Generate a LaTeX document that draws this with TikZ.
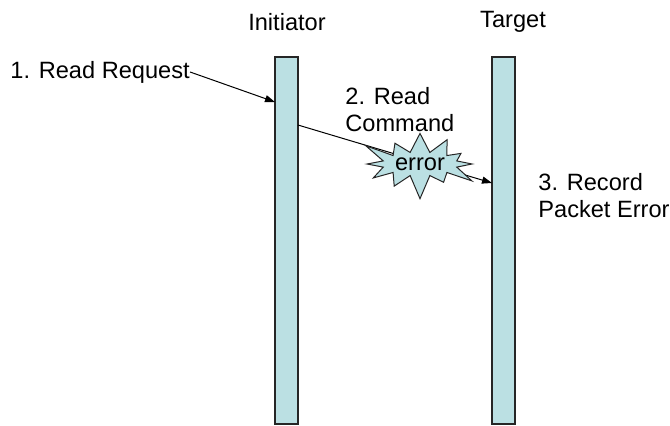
\documentclass[tikz,border=0pt]{standalone}
\usepackage{fontspec}
\setmainfont{Liberation Sans}
\usetikzlibrary{arrows.meta,shapes.symbols}
\definecolor{barblue}{RGB}{187,224,227}
\tikzset{
  lane/.style={draw=black!85, fill=barblue, line width=0.8pt, minimum width=11.5pt, minimum height=183.5pt, inner sep=0pt},
  lbl/.style={font=\fontsize{11.8}{13.5}\selectfont, inner sep=0pt, align=left},
  msg/.style={-{Triangle[length=5pt,width=3.5pt]}, line width=0.5pt}
}
\begin{document}
\begin{tikzpicture}[x=0.5pt, y=-0.5pt]
                \useasboundingbox (0,0) rectangle (670,425);

                % lifelines
                \node[lane] (ini) at (286.5,240.25) {};
                \node[lane] (tgt) at (503.5,240.25) {};
                \node[lbl] (initxt) at (287,22) {Initiator};
                \node[lbl] (tgttxt) at (513,22) {Target};

                % messages
                \node[lbl, anchor=west] (req) at (10,72) {1. Read Request};
                \coordinate (reqend) at (275,102);
                \draw[msg] (req.east) -- (reqend);

                \node[lbl, anchor=west] (cmd) at (345,110) {2. Read\\Command};
                \coordinate (cmdstart) at (298,125);
                \coordinate (cmdend) at (492,183);
                \draw[msg] (cmdstart) -- (cmdend);
                \node[lbl, starburst, starburst points=12, starburst point height=13pt,
                      draw=black!85, fill=barblue, line width=0.5pt,
                      minimum width=60pt, minimum height=30pt, inner sep=1pt] (err) at (420,164) {error};

                \node[lbl, anchor=west] (rec) at (538,196) {3. Record\\Packet Error};
            \end{tikzpicture}
\end{document}
